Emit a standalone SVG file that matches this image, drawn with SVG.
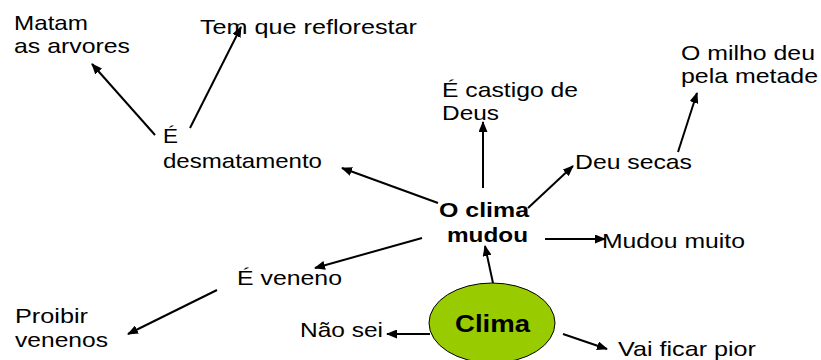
<svg xmlns="http://www.w3.org/2000/svg" width="821" height="360" viewBox="0 0 821 360">
<defs>
<marker id="ah" markerWidth="11" markerHeight="9" refX="10" refY="4.5" orient="auto" markerUnits="userSpaceOnUse">
<path d="M0,0 L11,4.5 L0,9 Z" fill="#000"/>
</marker>
<style>
text{font-family:"Liberation Sans",Arial,sans-serif;font-size:21px;fill:#000}
.b{font-weight:bold}
.c line{stroke:#000;stroke-width:2;marker-end:url(#ah)}
</style>
</defs>
<rect width="821" height="360" fill="#fff"/>
<g class="c" id="connectors">
<line x1="155" y1="135" x2="92" y2="64"/>
<line x1="190" y1="128" x2="241" y2="27"/>
<line x1="438" y1="203" x2="342" y2="168"/>
<line x1="483" y1="188" x2="483" y2="122"/>
<line x1="528" y1="208" x2="573" y2="166"/>
<line x1="678" y1="152" x2="697" y2="93"/>
<line x1="545" y1="239" x2="605" y2="239"/>
<line x1="422" y1="238" x2="315" y2="268"/>
<line x1="217" y1="290" x2="128" y2="334"/>
<line x1="493" y1="283" x2="485" y2="246"/>
<line x1="430" y1="334" x2="387" y2="334"/>
<line x1="563" y1="334" x2="607" y2="349"/>
</g>
<g id="matam"><text x="14" y="30" textLength="74" lengthAdjust="spacingAndGlyphs">Matam</text><text x="14" y="53" textLength="116" lengthAdjust="spacingAndGlyphs">as arvores</text></g>
<g id="reflorestar"><text x="200" y="34" textLength="217" lengthAdjust="spacingAndGlyphs">Tem que reflorestar</text></g>
<g id="desmatamento"><text x="163" y="143" textLength="15" lengthAdjust="spacingAndGlyphs">É</text><text x="163" y="168" textLength="159" lengthAdjust="spacingAndGlyphs">desmatamento</text></g>
<g id="castigo"><text x="442" y="97" textLength="136" lengthAdjust="spacingAndGlyphs">É castigo de</text><text x="442" y="120" textLength="57" lengthAdjust="spacingAndGlyphs">Deus</text></g>
<g id="milho"><text x="681" y="60" textLength="134" lengthAdjust="spacingAndGlyphs">O milho deu</text><text x="681" y="83" textLength="137" lengthAdjust="spacingAndGlyphs">pela metade</text></g>
<g id="secas"><text x="575" y="169" textLength="117" lengthAdjust="spacingAndGlyphs">Deu secas</text></g>
<g id="mudou"><text class="b" x="439" y="217" style="font-size:20px" textLength="90" lengthAdjust="spacingAndGlyphs">O clima</text><text class="b" x="447" y="242" style="font-size:20px" textLength="81" lengthAdjust="spacingAndGlyphs">mudou</text></g>
<g id="muito"><text x="602" y="248" textLength="143" lengthAdjust="spacingAndGlyphs">Mudou muito</text></g>
<g id="veneno"><text x="237" y="285" textLength="105" lengthAdjust="spacingAndGlyphs">É veneno</text></g>
<g id="proibir"><text x="15" y="323" textLength="73" lengthAdjust="spacingAndGlyphs">Proibir</text><text x="15" y="347" textLength="93" lengthAdjust="spacingAndGlyphs">venenos</text></g>
<g id="naosei"><text x="300" y="337" textLength="83" lengthAdjust="spacingAndGlyphs">Não sei</text></g>
<g id="clima"><ellipse cx="492" cy="323" rx="63" ry="40" fill="#99CC00" stroke="#000" stroke-width="1"/><text class="b" x="455" y="332" style="font-size:24px" textLength="75" lengthAdjust="spacingAndGlyphs">Clima</text></g>
<g id="pior"><text x="618" y="356" textLength="138" lengthAdjust="spacingAndGlyphs">Vai ficar pior</text></g>
</svg>
